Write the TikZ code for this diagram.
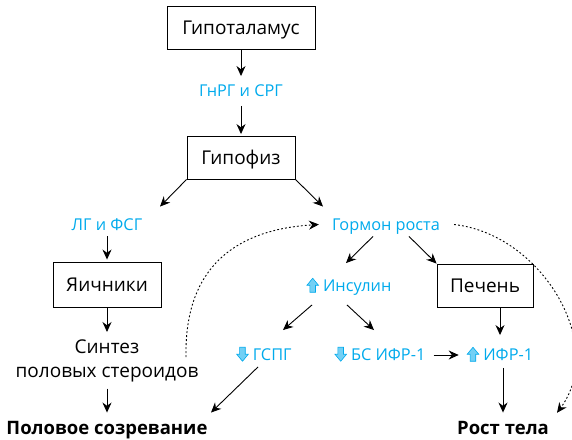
\documentclass[tikz,border=0pt]{standalone}
\usepackage{fontspec}
\setmainfont{Open Sans}
\usetikzlibrary{arrows.meta}
\definecolor{hblue}{RGB}{0,170,236}
% small block arrows in front of the hormone names
\newcommand{\uparr}{\tikz[baseline=0pt,x=1pt,y=1pt]\filldraw[draw=hblue,fill=hblue!55,line width=0.6pt]
  (-2.8,-0.5) -- (2.8,-0.5) -- (2.8,6.5) -- (5.8,6.5) -- (0,13.5) -- (-5.8,6.5) -- (-2.8,6.5) -- cycle;}
\newcommand{\downarr}{\tikz[baseline=0pt,x=1pt,y=1pt]\filldraw[draw=hblue,fill=hblue!55,line width=0.6pt]
  (-2.8,13.5) -- (2.8,13.5) -- (2.8,6.5) -- (5.8,6.5) -- (0,-0.5) -- (-5.8,6.5) -- (-2.8,6.5) -- cycle;}
\tikzset{
  organ/.style={draw, line width=0.9pt, inner sep=0pt, font=\fontsize{19}{24}\selectfont,
    text height=13.5pt, text depth=0pt},
  hormone/.style={text=hblue, inner sep=0pt, font=\fontsize{16.3}{20}\selectfont,
    text height=11.5pt, text depth=0pt},
  outcome/.style={inner sep=0pt, font=\fontsize{18.5}{24}\selectfont\bfseries,
    text height=13.5pt, text depth=0pt},
  arr/.style={line width=0.9pt, -{Stealth[length=10pt,width=9pt]}},
  feedback/.style={line width=0.9pt, dash pattern=on 1.8pt off 2.2pt, -{Stealth[length=10pt,width=9pt]}}
}
\begin{document}
\begin{tikzpicture}[x=1pt,y=-1pt]
\useasboundingbox (0,0) rectangle (572,439);
%--- Axis: hypothalamus and pituitary ---
\node[organ, minimum width=148pt, minimum height=43pt] (hypo) at (241,27.5) {Гипоталамус};
\node[hormone] (gnrg) at (241,91) {ГнРГ и СРГ};
\node[organ, minimum width=108pt, minimum height=43pt] (pit) at (241,157.5) {Гипофиз};
%--- Left branch: ovaries ---
\node[hormone] (lhfsh) at (107,224.5) {ЛГ и ФСГ};
\node[organ, minimum width=108pt, minimum height=45pt] (ovary) at (107,284.5) {Яичники};
\node[align=center, inner sep=0pt, anchor=north, font=\fontsize{19}{24}\selectfont] (synth) at (107,339.5)
  {Синтез\\половых стероидов};
\node[outcome] (puberty) at (107,427.5) {Половое созревание};
%--- Right branch: growth hormone ---
\node[hormone] (gh) at (386,224.5) {Гормон роста};
\node[hormone] (ins) at (349,286) {\uparr\ Инсулин};
\node[organ, minimum width=96pt, minimum height=43pt] (liver) at (485,285.5) {Печень};
\node[hormone] (shbg) at (264,355) {\downarr\ ГСПГ};
\node[hormone] (bsigf) at (380,355) {\downarr\ БС ИФР-1};
\node[hormone] (igf) at (500,355) {\uparr\ ИФР-1};
\node[outcome] (growth) at (503,427.5) {Рост тела};
%--- Arrows ---
\draw[arr, shorten >=9pt] (hypo) -- (gnrg);
\draw[arr, shorten <=9pt, shorten >=1.5pt] (gnrg) -- (pit);
\draw[arr] (pit.south west) -- ([xshift=53pt,yshift=12pt]lhfsh.north);
\draw[arr] (pit.south east) -- ([xshift=-63pt,yshift=12pt]gh.north);
\draw[arr, shorten <=6pt, shorten >=2pt] (lhfsh) -- (ovary);
\draw[arr, shorten >=7.5pt] (ovary) -- (synth);
\draw[arr, shorten <=6.5pt, shorten >=8pt] (synth) -- (puberty);
\draw[arr] ([xshift=-13pt,yshift=-6pt]gh.south) -- ([xshift=-3pt,yshift=17pt]ins.north);
\draw[arr] ([xshift=23pt,yshift=-6pt]gh.south) -- (liver.north west);
\draw[arr] ([xshift=-37pt,yshift=-13pt]ins.south) -- ([xshift=19pt,yshift=19pt]shbg.north);
\draw[arr] ([xshift=-2pt,yshift=-13pt]ins.south) -- ([xshift=-6pt,yshift=19pt]bsigf.north);
\draw[arr, shorten <=8pt, shorten >=8pt] (bsigf) -- (igf);
\draw[arr, shorten >=14pt] (liver.south -| igf.north) -- (igf.north);
\draw[arr, shorten <=7pt, shorten >=8pt] ([xshift=3pt]igf.south) -- (growth.north);
\draw[arr] ([xshift=-6pt,yshift=-6pt]shbg.south) -- ([xshift=104pt,yshift=8pt]puberty.north);
%--- Dotted feedback curves ---
\draw[feedback] ([xshift=79pt,yshift=-17.5pt]synth.north) .. controls +(-2,-102) and +(-68,4) .. ([xshift=-13pt]gh.west);
\draw[feedback] ([xshift=14pt]gh.east) .. controls +(88,10) and +(50,-68) .. ([xshift=54pt,yshift=7.75pt]growth.north);
\end{tikzpicture}
\end{document}
